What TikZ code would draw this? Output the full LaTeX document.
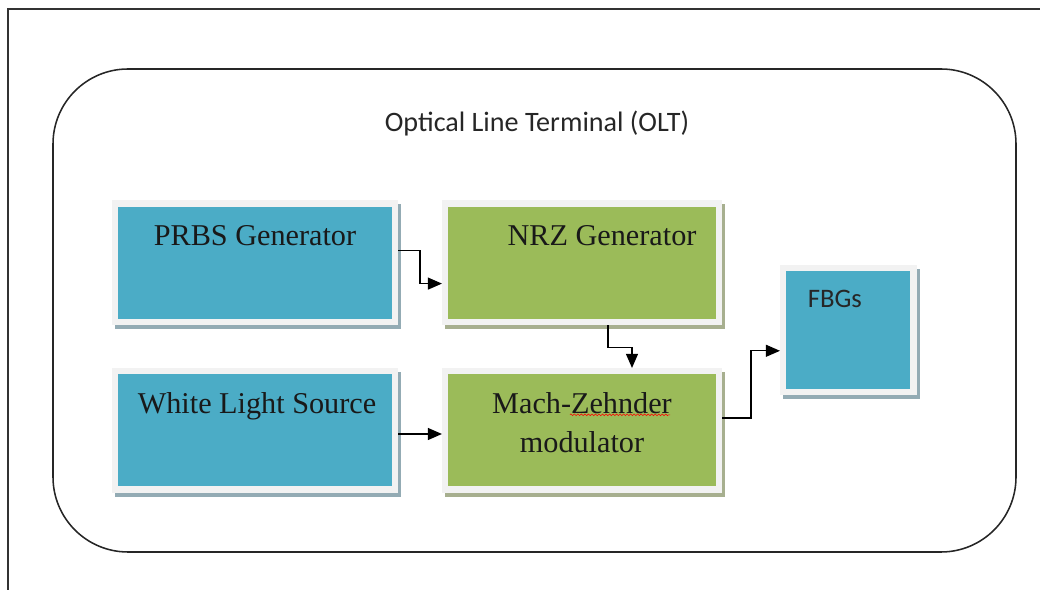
\documentclass[tikz,border=0pt]{standalone}
\usepackage{fontspec}
\setmainfont{Liberation Serif}
\newfontfamily\calibri{Carlito}
\usepackage{tikz}
\usetikzlibrary{arrows.meta,shadows,decorations.pathmorphing}
\definecolor{aqua}{HTML}{4BACC6}
\definecolor{leaf}{HTML}{9BBB59}
\definecolor{rim}{HTML}{F2F2F2}
\definecolor{aquashade}{HTML}{93ABB4}
\definecolor{leafshade}{HTML}{A7AF8F}
\tikzset{
    box/.style={draw=rim,line width=4.6pt,minimum height=2.96cm,inner sep=0pt},
    aquabox/.style={box,fill=aqua,drop shadow={shadow xshift=0.08cm,shadow yshift=-0.1cm,fill=aquashade,draw=aquashade,opacity=1}},
    leafbox/.style={box,fill=leaf,drop shadow={shadow xshift=0.08cm,shadow yshift=-0.1cm,fill=leafshade,draw=leafshade,opacity=1}},
    lbl/.style={font=\fontsize{21.5}{27.7}\selectfont,text=black!90,align=center},
    arr/.style={-{Triangle[length=10pt,width=8.5pt]},line width=0.9pt},
}
\begin{document}
\begin{tikzpicture}
        \useasboundingbox (0,0) rectangle (26,14.75);
        \draw[line width=1pt,black!80] (0.2,0) -- (0.2,14.525) -- (26,14.525);
        \draw[line width=1.1pt,black!85,rounded corners=1.875cm] (1.325,0.95) rectangle (25.4,13.025);
        \node[anchor=base,font=\calibri\fontsize{20}{24}\selectfont,text=black!85] (olt) at (13.425,11.45) {Optical Line Terminal (OLT)};
        \node[aquabox,minimum width=6.99cm] (prbs) at (6.375,8.18) {};
        \node[leafbox,minimum width=6.84cm] (nrz) at (14.55,8.18) {};
        \node[aquabox,minimum width=6.99cm] (wls) at (6.375,3.99) {};
        \node[leafbox,minimum width=6.84cm] (mzm) at (14.55,3.99) {};
        \node[aquabox,minimum width=3.26cm,minimum height=3.09cm] (fbg) at (21.21,6.5) {};
        \node[lbl,anchor=base] (prbstxt) at ([yshift=-1.125cm]prbs.north) {PRBS Generator};
        \node[lbl,anchor=base] (nrztxt) at ([xshift=0.5cm,yshift=-1.125cm]nrz.north) {NRZ Generator};
        \node[lbl,anchor=base] (wlstxt) at ([xshift=0.05cm,yshift=-1.15cm]wls.north) {White Light Source};
        \node[lbl] (mzmtxt) at ([yshift=0.185cm]mzm.center) {Mach-Zehnder\\modulator};
        \node[anchor=base,font=\calibri\fontsize{19}{23}\selectfont,text=black!85] (fbgtxt) at ([xshift=-0.34cm,yshift=-1.075cm]fbg.north) {FBGs};
        \draw[red,line width=0.4pt,decorate,decoration={zigzag,amplitude=0.6pt,segment length=2.5pt}] (14.25,4.38) -- (16.75,4.38);
        \draw[arr] ([yshift=0.31cm]prbs.east) -- ++(0.55,0) |- ([yshift=-0.52cm]nrz.west);
        \draw[arr] ([xshift=0.65cm]nrz.south) -- ++(0,-0.55) -| ([xshift=1.25cm]mzm.north);
        \draw[arr] ([yshift=-0.09cm]wls.east) -- ([yshift=-0.09cm]mzm.west);
        \draw[arr] ([yshift=0.31cm]mzm.east) -- ++(0.725,0) |- ([yshift=-0.52cm]fbg.west);
    \end{tikzpicture}
\end{document}
